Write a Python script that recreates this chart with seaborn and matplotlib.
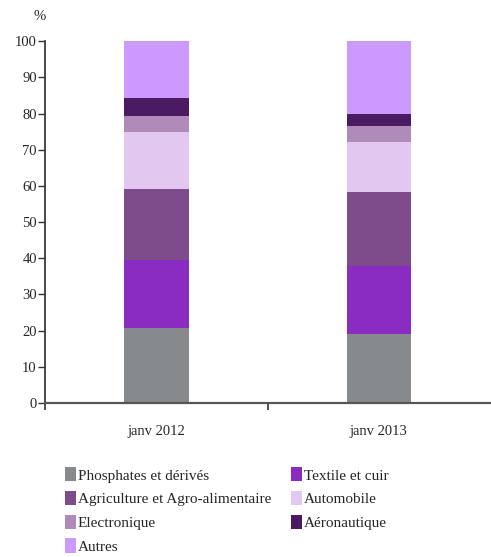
import pandas as pd
import matplotlib.pyplot as plt
import seaborn as sns
from matplotlib.patches import Patch

# ------------------------------
# Data
# ------------------------------
periods = ["janv 2012", "janv 2013"]
sectors = ["Phosphates et dérivés", "Textile et cuir", "Agriculture et Agro-alimentaire",
           "Automobile", "Electronique", "Aéronautique", "Autres"]
share_2012 = [20.7, 18.8, 19.6, 15.8, 4.4, 5.0, 15.7]
share_2013 = [19.1, 18.9, 20.3, 13.8, 4.4, 3.3, 20.2]
colors = ["#878a8d", "#8a2bc2", "#7e4c8a", "#e2c8f0", "#b08ab8", "#4a1a62", "#cc99ff"]

df = pd.DataFrame({"period": periods * len(sectors),
                   "sector": [s for s in sectors for _ in periods],
                   "value": [v for pair in zip(share_2012, share_2013) for v in pair]})

# ------------------------------
# Figure
# ------------------------------
sns.set_theme(style="white")
plt.rcParams['font.family'] = ['Liberation Serif', 'DejaVu Serif']

fig = plt.figure(figsize=(4.91, 5.57), dpi=100)
ax = fig.add_axes([0.092, 0.2765, 0.906, 0.6495])

bottom = pd.Series([0.0, 0.0], index=periods)
for sector, color in zip(sectors, colors):
    sub = df[df["sector"] == sector].set_index("period").loc[periods]
    sns.barplot(x=periods, y=sub["value"].values, ax=ax, color=color,
                width=0.29, bottom=bottom.values, linewidth=0, saturation=1)
    bottom = bottom + sub["value"].values

ax.set_xlim(-0.5, 1.5)
ax.set_ylim(0, 100)
ax.set_yticks(range(0, 101, 10))
ax.tick_params(axis="y", direction="out", length=5, width=1, color="#333333",
               left=True, labelsize=10.5, pad=1)

# category labels as minor ticks, boundary ticks as major
ax.set_xticks([-0.5, 0.5])
ax.set_xticklabels(["", ""])
ax.set_xticks([0, 1], minor=True)
ax.set_xticklabels(periods, minor=True)
ax.tick_params(axis="x", which="major", direction="out", length=5, width=1.2,
               color="#333333", bottom=True)
ax.tick_params(axis="x", which="minor", length=0, labelsize=10.5, pad=16)

sns.despine(ax=ax, top=True, right=True)
ax.spines["left"].set_color("#333333")
ax.spines["bottom"].set_color("#555555")
ax.spines["bottom"].set_linewidth(1.6)
ax.set_xlabel("")
ax.set_ylabel("")

fig.text(0.081, 0.97, "%", ha="center", va="center", fontsize=10.5)

# legend in row-major order with two columns
handles = [Patch(facecolor=c, edgecolor="none", label=s) for s, c in zip(sectors, colors)]
order = [0, 2, 4, 6, 1, 3, 5]
fig.legend([handles[i] for i in order], [sectors[i] for i in order],
           ncol=2, loc="upper left", bbox_to_anchor=(0.132, 0.161),
           frameon=False, fontsize=11, handlelength=0.7, handleheight=1.05,
           handletextpad=0.15, columnspacing=1.3, labelspacing=0.55,
           borderaxespad=0, borderpad=0)

plt.savefig("out.png", dpi=100)
